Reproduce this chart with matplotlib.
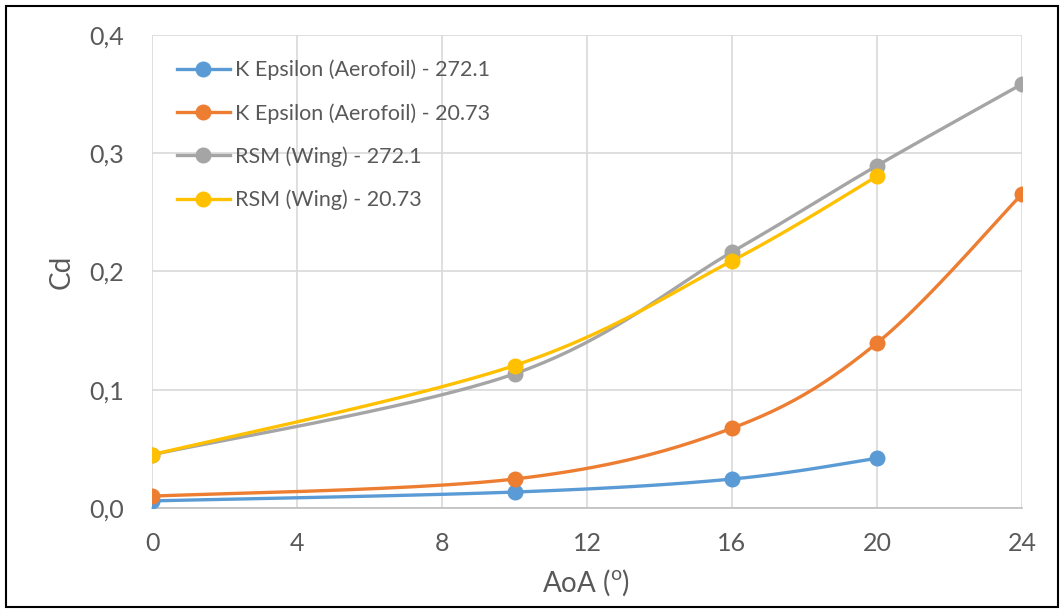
import numpy as np
import matplotlib
matplotlib.use("Agg")
import matplotlib.pyplot as plt
from matplotlib.ticker import FuncFormatter, MultipleLocator
from matplotlib.patches import Rectangle

# Data
labels = ["K Epsilon (Aerofoil) - 272.1", "K Epsilon (Aerofoil) - 20.73",
          "RSM (Wing) - 272.1", "RSM (Wing) - 20.73"]
x_ke272 = [0, 10, 16, 20]
y_ke272 = [0.006, 0.0135, 0.0245, 0.042]
x_ke20 = [0, 10, 16, 20, 24]
y_ke20 = [0.010, 0.0245, 0.0675, 0.1395, 0.2655]
x_rsm272 = [0, 10, 16, 20, 24]
y_rsm272 = [0.045, 0.1135, 0.2165, 0.2895, 0.3585]
x_rsm20 = [0, 10, 16, 20]
y_rsm20 = [0.045, 0.1205, 0.2090, 0.2805]
colors = ["#5B9BD5", "#ED7D31", "#A5A5A5", "#FFC000"]
series = [(x_ke272, y_ke272), (x_ke20, y_ke20), (x_rsm272, y_rsm272), (x_rsm20, y_rsm20)]
xticks = [0, 4, 8, 12, 16, 20, 24]

FONT = "Lato"
TXT = "#595959"

fig = plt.figure(figsize=(10.64, 6.09), dpi=100)
ax = fig.add_axes([152/1064, 1-508/609, (1022-152)/1064, (508-35)/609])
fig.patches.append(Rectangle((6/1064, 2/609), 1052/1064, 601/609, transform=fig.transFigure,
                             fill=False, edgecolor="black", linewidth=1.5))

XMAX, YMAX = 24.0, 0.4
W, H = 870.0, 473.0

def smooth(xs, ys, n=40):
    px = np.array(xs, float) / XMAX * W
    py = np.array(ys, float) / YMAX * H
    pts = np.column_stack([px, py])
    out = []
    m = len(pts)
    for i in range(m - 1):
        p0 = pts[i - 1] if i > 0 else pts[i]
        p1 = pts[i]
        p2 = pts[i + 1]
        p3 = pts[i + 2] if i + 2 < m else pts[i + 1]
        c1 = p1 + (p2 - p0) / 6.0
        c2 = p2 - (p3 - p1) / 6.0
        t = np.linspace(0, 1, n)[:, None]
        seg = (1 - t) ** 3 * p1 + 3 * (1 - t) ** 2 * t * c1 + 3 * (1 - t) * t ** 2 * c2 + t ** 3 * p2
        out.append(seg if i == 0 else seg[1:])
    out = np.vstack(out)
    return out[:, 0] / W * XMAX, out[:, 1] / H * YMAX

for (xs, ys), c, lab in zip(series, colors, labels):
    sx, sy = smooth(xs, ys)
    ax.plot(sx, sy, color=c, lw=2.4, solid_capstyle="round", zorder=3)
    ax.plot(xs, ys, "o", color=c, ms=10.5, zorder=4)
    ax.plot([], [], "-o", color=c, lw=2.4, ms=10.5, label=lab)

ax.set_xlim(0, 24)
ax.set_ylim(0, 0.4)
ax.set_xticks(xticks)
ax.yaxis.set_major_locator(MultipleLocator(0.1))
ax.yaxis.set_major_formatter(FuncFormatter(lambda v, p: f"{v:.1f}".replace(".", ",")))
ax.grid(True, color="#D9D9D9", lw=1.2)
ax.set_axisbelow(True)
for s in ["top", "right", "left"]:
    ax.spines[s].set_visible(False)
ax.spines["bottom"].set_color("#BFBFBF")
ax.spines["bottom"].set_linewidth(1.2)
ax.tick_params(length=0, labelsize=18, labelcolor=TXT)
ax.tick_params(axis="x", pad=17)
ax.tick_params(axis="y", pad=20)
for t in ax.get_yticklabels() + ax.get_xticklabels():
    t.set_fontfamily(FONT)

fig.text(586/1064, 1-583/609, "AoA ($^{\\mathregular{o}}$)", fontsize=20, color=TXT, family=FONT,
         ha="center", va="center")
fig.text(62/1064, 1-272/609, "Cd", fontsize=20, color=TXT, family=FONT,
         ha="center", va="center", rotation=90)

leg = ax.legend(loc="upper left", bbox_to_anchor=(25/870, (508-59.5)/473), frameon=False,
                handlelength=2.45, handletextpad=0.23, labelspacing=1.06,
                borderpad=0, borderaxespad=0,
                prop={"family": FONT, "size": 15.5})
for t in leg.get_texts():
    t.set_color(TXT)

fig.savefig("out.png", dpi=100)
